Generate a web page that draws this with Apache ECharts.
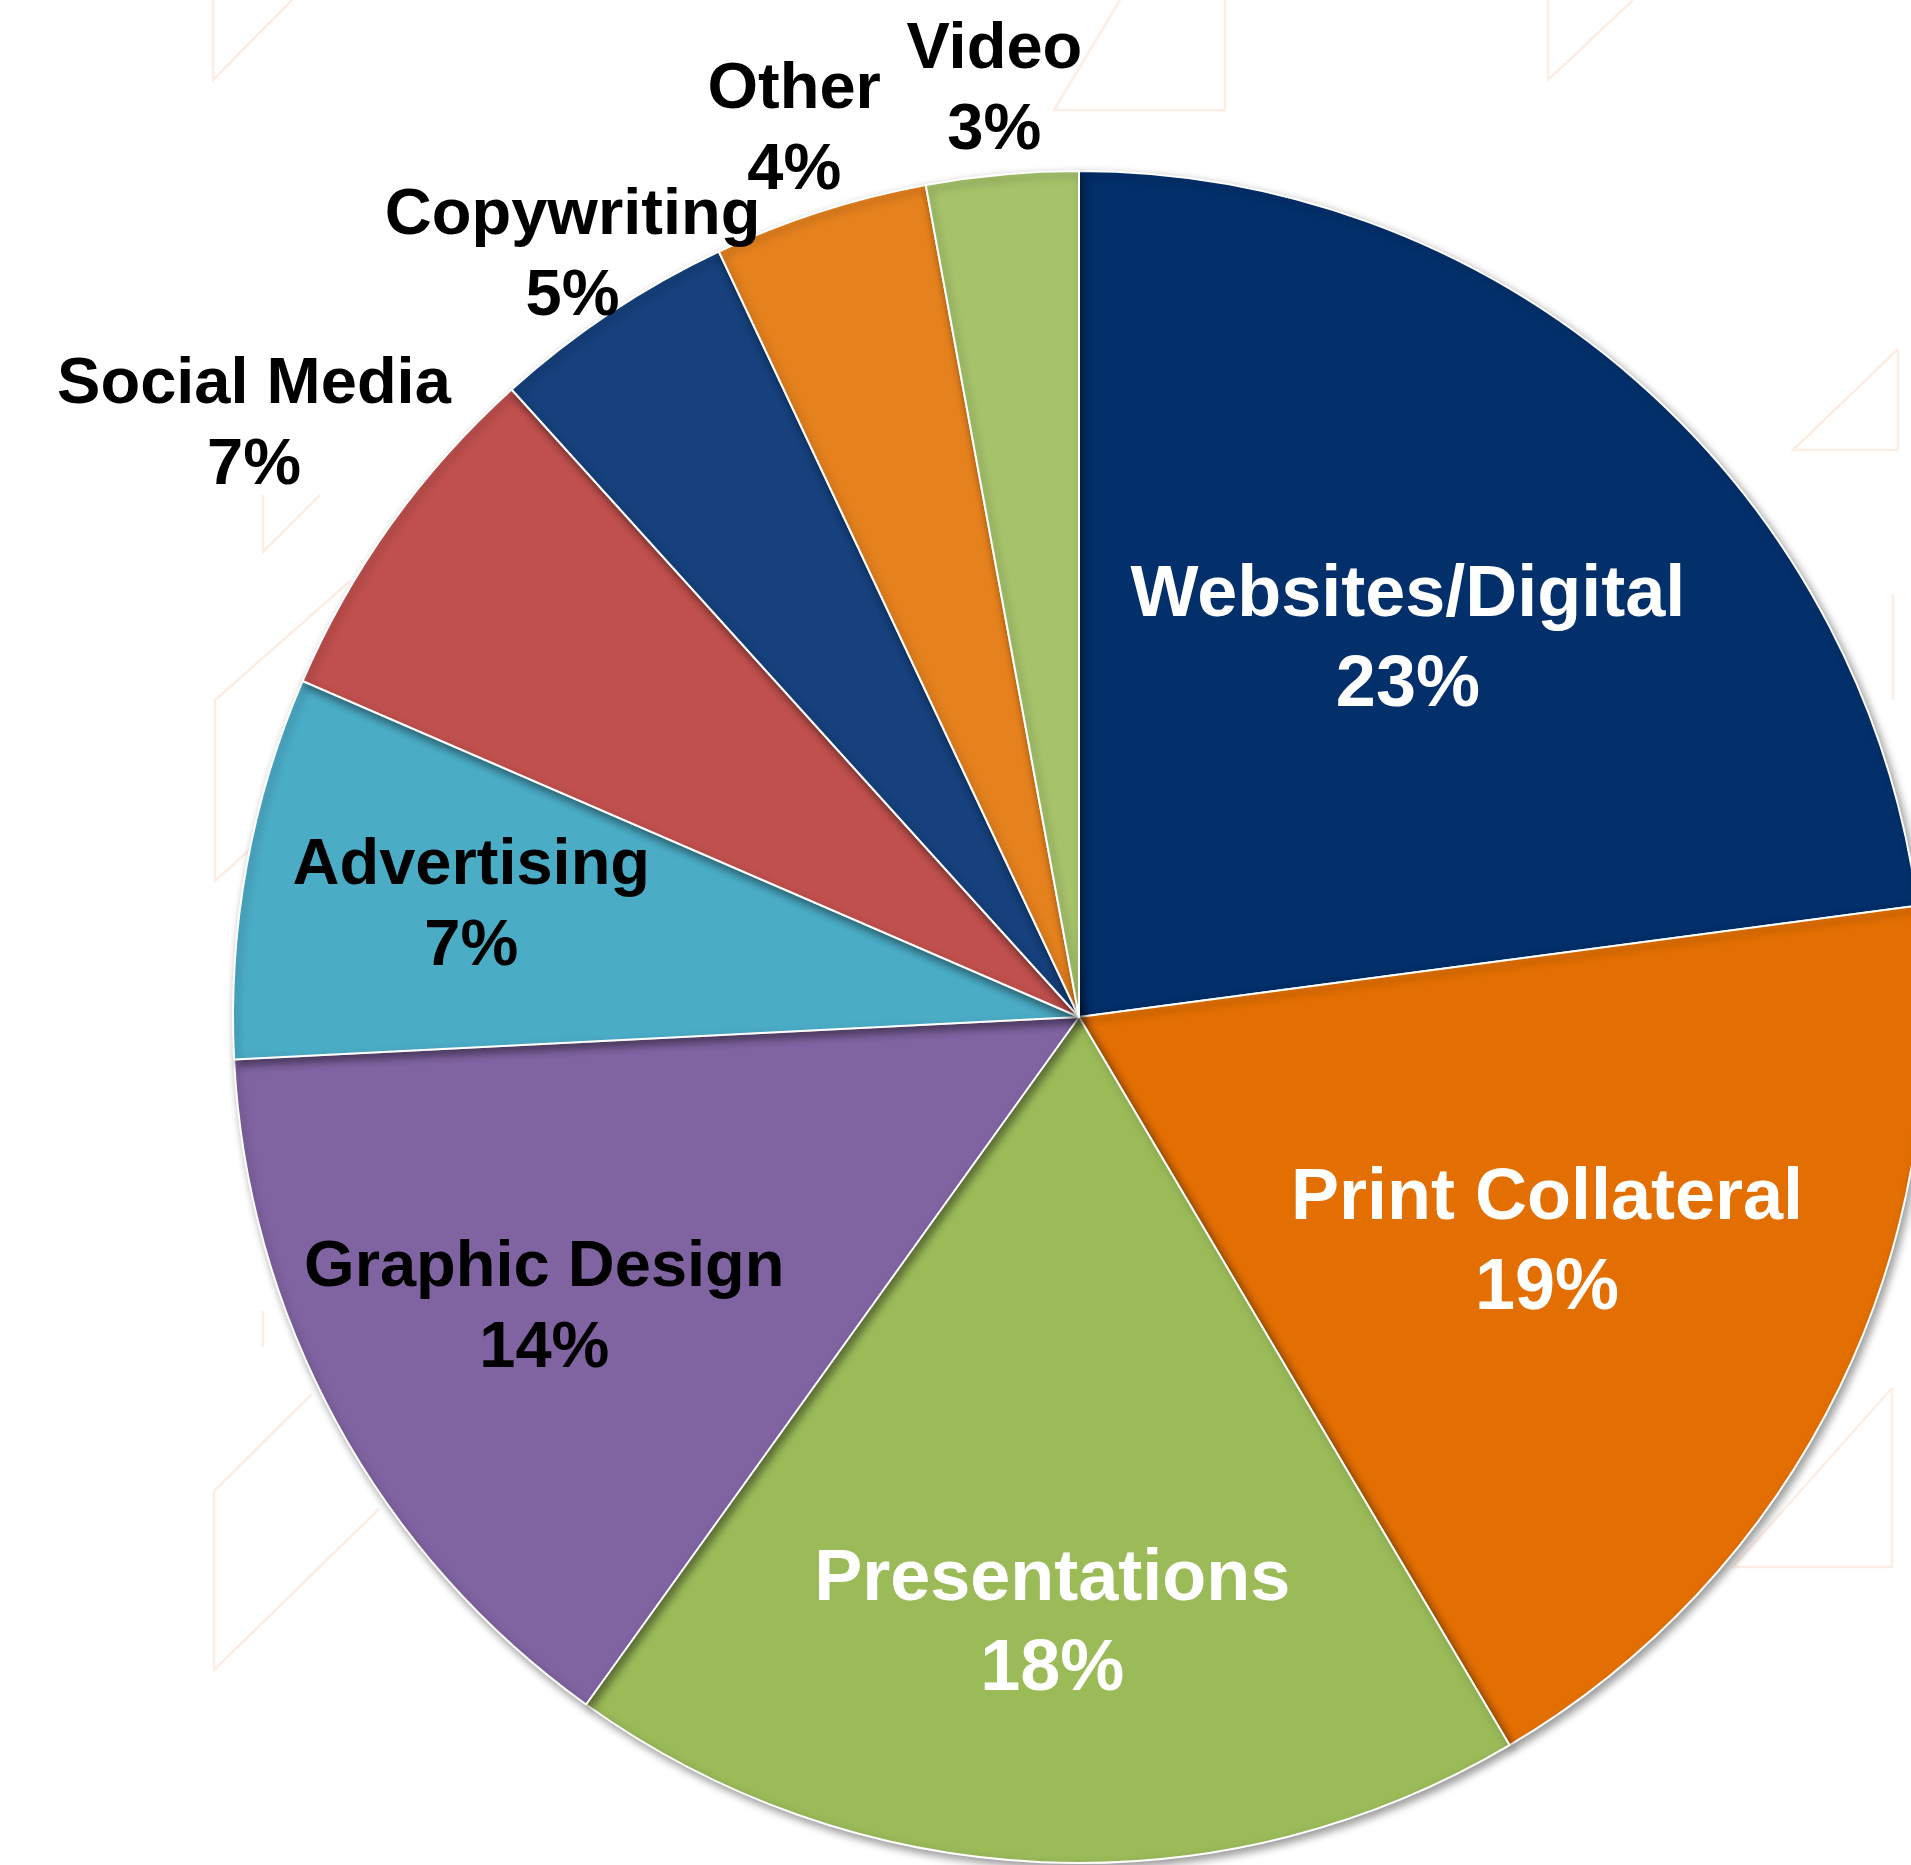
<!DOCTYPE html>
<html>
<head>
<meta charset="utf-8">
<style>
  html, body { margin: 0; padding: 0; background: #ffffff; }
  #chart { width: 1911px; height: 1865px; }
</style>
<script src="https://cdn.jsdelivr.net/npm/echarts@6/dist/echarts.min.js"></script>
</head>
<body>
<div id="chart"></div>
<script>
// ---- data ----
const categories = ['Websites/Digital', 'Print Collateral', 'Presentations', 'Graphic Design',
                    'Advertising', 'Social Media', 'Copywriting', 'Other', 'Video'];
const shares = [22.9, 18.6, 18.4, 14.3, 7.3, 6.8, 4.7, 4.1, 2.9];

// ---- style ----
const sliceColors = ['#03306B', '#E36F02', '#9BBB59', '#8064A2', '#4BACC6',
                     '#C0504D', '#16417D', '#E6821E', '#A6C36B'];
const labelColors = ['#ffffff', '#ffffff', '#ffffff', '#000000', '#000000',
                     '#000000', '#000000', '#000000', '#000000'];
const labelSizes = [72, 72, 72, 65, 65, 65, 65, 65, 65];
const labelRadius = [0.59, 0.615, 0.72, 0.72, 0.73, 1.20, 1.08, 1.10, 1.10];

const CX = 1079, CY = 1017, R = 846;

const total = shares.reduce((a, b) => a + b, 0);
function midAngle(i) {
  let before = 0;
  for (let k = 0; k < i; k++) before += shares[k];
  return (before + shares[i] / 2) / total * Math.PI * 2;
}

const chart = echarts.init(document.getElementById('chart'), null, { renderer: 'canvas' });

const deco = '#fdeee5';
function tri(points) {
  return { type: 'polyline', silent: true, z: 0,
           shape: { points: points },
           style: { stroke: deco, lineWidth: 2.5, fill: null } };
}

const option = {
  backgroundColor: '#ffffff',
  animation: false,
  graphic: [
    tri([[292, 0], [213, 80], [213, 0]]),
    tri([[1633, 0], [1548, 80], [1548, 0]]),
    tri([[1225, 0], [1225, 110], [1054, 110], [1120, 0]]),
    tri([[1898, 349], [1898, 450], [1793, 450], [1898, 349]]),
    tri([[1893, 594], [1893, 700]]),
    tri([[1892, 1388], [1892, 1567], [1733, 1567], [1892, 1388]]),
    tri([[350, 581], [215, 700], [215, 881], [350, 760]]),
    tri([[263, 495], [263, 552], [320, 495]]),
    tri([[312, 1394], [214, 1491], [214, 1670], [379, 1509]]),
    tri([[263, 1311], [263, 1347]])
  ],
  series: [{
    type: 'pie',
    center: [CX, CY],
    radius: R,
    startAngle: 90,
    clockwise: true,
    avoidLabelOverlap: false,
    data: categories.map((name, i) => ({
      name: name,
      value: shares[i],
      itemStyle: { color: sliceColors[i] },
      label: {
        color: labelColors[i],
        fontSize: labelSizes[i],
        lineHeight: Math.round(labelSizes[i] * 1.25)
      }
    })),
    itemStyle: {
      borderColor: '#ffffff',
      borderWidth: 2,
      shadowBlur: 8,
      shadowColor: 'rgba(0,0,0,0.4)',
      shadowOffsetX: 3,
      shadowOffsetY: 4
    },
    label: {
      show: true,
      position: 'inside',
      fontFamily: '"Liberation Sans", Arial, sans-serif',
      fontWeight: 'bold',
      align: 'center',
      verticalAlign: 'middle',
      formatter: function (p) { return p.name + '\n' + Math.round(p.value) + '%'; }
    },
    labelLine: { show: false },
    labelLayout: function (p) {
      const i = p.dataIndex;
      const a = midAngle(i);
      const f = labelRadius[i];
      return {
        x: CX + f * R * Math.sin(a),
        y: CY - f * R * Math.cos(a),
        align: 'center',
        verticalAlign: 'middle'
      };
    },
    emphasis: { disabled: true }
  }]
};

chart.setOption(option);
</script>
</body>
</html>
